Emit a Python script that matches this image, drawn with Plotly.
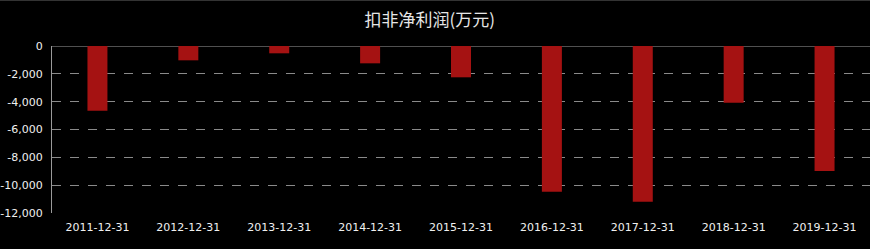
import plotly.graph_objects as go

categories = ["2011-12-31", "2012-12-31", "2013-12-31", "2014-12-31", "2015-12-31",
              "2016-12-31", "2017-12-31", "2018-12-31", "2019-12-31"]
values = [-4650, -1030, -525, -1245, -2250, -10465, -11185, -4070, -8980]
y_ticks = [0, -2000, -4000, -6000, -8000, -10000, -12000]
y_tick_labels = ["0", "-2,000", "-4,000", "-6,000", "-8,000", "-10,000", "-12,000"]
title_text = "扣非净利润(万元)"

fig = go.Figure()
fig.add_trace(go.Bar(x=categories, y=values, marker=dict(color="#a51212", line=dict(width=0)),
                     hoverinfo="x+y"))

fig.update_layout(
    width=870, height=249,
    paper_bgcolor="#000000", plot_bgcolor="#000000",
    margin=dict(l=52, r=0, t=46, b=36),
    bargap=0.78,
    showlegend=False,
    title=dict(text=title_text, x=0.494, xanchor="center", y=0.92, yanchor="middle",
               font=dict(family="Noto Sans CJK SC", size=17, color="#e6e6e6")),
    xaxis=dict(type="category", showgrid=False, showline=False, zeroline=False,
               ticks="", ticklabelstandoff=6,
               tickfont=dict(family="DejaVu Sans", size=11, color="#f0f0f0"),
               tickangle=0),
    yaxis=dict(range=[-12000, 0], tickvals=y_ticks, ticktext=y_tick_labels,
               showgrid=True, gridcolor="#8a8a8a", griddash="dash", gridwidth=1,
               zeroline=False, showline=True, linecolor="#9a9a9a", linewidth=1,
               ticks="", ticklen=0, ticklabelstandoff=6,
               tickfont=dict(family="DejaVu Sans", size=11, color="#f0f0f0")),
    shapes=[
        dict(type="line", xref="paper", yref="y", x0=0, x1=1, y0=0, y1=0,
             line=dict(color="#a0a0a0", width=1), layer="below"),
        dict(type="line", xref="paper", yref="paper", x0=-0.1, x1=1, y0=1.276, y1=1.276,
             line=dict(color="#333333", width=2)),
    ],
)
fig.write_html("out.html")
